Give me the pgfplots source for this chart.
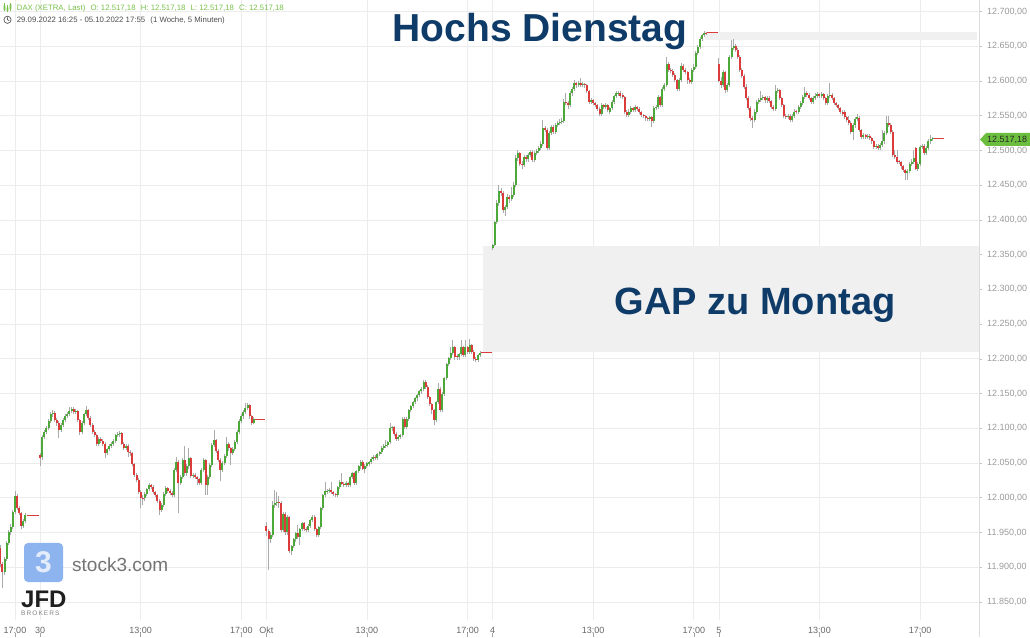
\documentclass[border=0pt]{standalone}
\usepackage{pgfplots}
\pgfplotsset{compat=1.18}
\usepackage{pgfplotstable}
\usepackage{fontspec}
\setmainfont{Liberation Sans}
\definecolor{cgreen}{HTML}{4DA83A}
\definecolor{cred}{HTML}{DB3B3B}
\definecolor{cwick}{HTML}{ABABAB}
\definecolor{gridc}{HTML}{ECECEC}
\definecolor{navy}{HTML}{0F3B68}
\definecolor{hdrgreen}{HTML}{78C04A}
\definecolor{boxgray}{HTML}{F0F0F0}
\definecolor{logoblue}{HTML}{8EB4EF}
\definecolor{ylab}{HTML}{9A9A9A}
\definecolor{xlab}{HTML}{666666}
\definecolor{pricegreen}{HTML}{6CBF3E}

\pgfplotstableread{
d k o h l c
0 89 11928 11932 11900 11905
0 90 11905 11908 11870 11893
0 91 11893 11915 11889 11912
0 92 11912 11938 11909 11935
0 93 11935 11953 11932 11950
0 94 11950 11962 11946 11958
0 95 11958 11983 11955 11980
0 96 11980 12010 11977 12003
0 97 12003 12006 11982 11985
0 98 11985 11988 11975 11978
0 99 11978 11980 11955 11960
0 100 11960 11969 11957 11966
0 101 11966 11978 11963 11975
9 0 12062 12065 12046 12057
9 1 12058 12090 12055 12088
9 2 12088 12097 12085 12095
9 3 12095 12103 12092 12100
9 4 12100 12113 12097 12110
9 5 12110 12123 12107 12120
9 6 12120 12127 12116 12122
9 7 12122 12125 12109 12112
9 8 12112 12115 12104 12108
9 9 12108 12110 12086 12098
9 10 12098 12108 12095 12105
9 11 12105 12115 12102 12112
9 12 12112 12121 12109 12118
9 13 12118 12123 12115 12120
9 14 12120 12131 12117 12125
9 15 12125 12131 12122 12128
9 16 12128 12130 12120 12124
9 17 12124 12128 12121 12125
9 18 12125 12127 12109 12112
9 19 12112 12114 12090 12094
9 20 12094 12110 12092 12108
9 21 12108 12122 12105 12120
9 22 12120 12132 12117 12126
9 23 12126 12128 12112 12115
9 24 12115 12118 12102 12105
9 25 12105 12108 12092 12095
9 26 12095 12098 12087 12090
9 27 12090 12092 12075 12078
9 28 12078 12088 12075 12085
9 29 12085 12087 12079 12082
9 30 12082 12084 12075 12078
9 31 12078 12080 12057 12064
9 32 12064 12072 12061 12070
9 33 12070 12077 12067 12075
9 34 12075 12080 12072 12078
9 35 12078 12084 12075 12082
9 36 12082 12092 12079 12090
9 37 12090 12095 12087 12092
9 38 12092 12096 12088 12093
9 39 12093 12095 12076 12078
9 40 12078 12080 12069 12072
9 41 12072 12078 12069 12075
9 42 12075 12077 12058 12066
9 43 12066 12069 12060 12064
9 44 12064 12066 12045 12048
9 45 12048 12050 12030 12033
9 46 12033 12036 12022 12025
9 47 12025 12028 12005 12008
9 48 12008 12011 11985 12000
9 49 12000 12004 11990 11999
9 50 11999 12008 11996 12006
9 51 12006 12014 12003 12012
9 52 12012 12021 12009 12018
9 53 12018 12020 12012 12016
9 54 12016 12018 12005 12008
9 55 12008 12010 12001 12004
9 56 12004 12006 11992 11995
9 57 11995 11998 11975 11983
9 58 11983 11993 11980 11990
9 59 11990 12008 11987 12005
9 60 12005 12017 12002 12014
9 61 12014 12016 12007 12010
9 62 12010 12012 12004 12007
9 63 12007 12009 12001 12004
9 64 12004 12043 12001 12040
9 65 12040 12058 12037 12052
9 66 12052 12054 11978 12021
9 67 12021 12033 12018 12030
9 68 12030 12057 12027 12054
9 69 12054 12074 12032 12035
9 70 12035 12048 12032 12045
9 71 12045 12071 12042 12057
9 72 12057 12059 12028 12031
9 73 12031 12036 12028 12033
9 74 12033 12035 12027 12030
9 75 12030 12032 12018 12027
9 76 12027 12029 12018 12021
9 77 12021 12043 12018 12040
9 78 12040 12057 12037 12054
9 79 12054 12056 12004 12018
9 80 12018 12033 12004 12030
9 81 12030 12050 12027 12047
9 82 12047 12079 12044 12076
9 83 12076 12098 12073 12083
9 84 12083 12085 12065 12068
9 85 12068 12070 12052 12055
9 86 12055 12057 12024 12040
9 87 12040 12053 12037 12050
9 88 12050 12063 12047 12060
9 89 12060 12088 12057 12078
9 90 12078 12080 12068 12071
9 91 12071 12073 12047 12064
9 92 12064 12073 12061 12070
9 93 12070 12083 12067 12080
9 94 12080 12098 12077 12095
9 95 12095 12113 12092 12110
9 96 12110 12120 12107 12117
9 97 12117 12127 12114 12124
9 98 12124 12136 12121 12129
9 99 12129 12136 12126 12133
9 100 12133 12135 12114 12117
9 101 12117 12119 12105 12108
9 102 12108 12116 12106 12113
18 0 11960 11965 11945 11952
18 1 11952 11955 11896 11940
18 2 11940 11950 11935 11946
18 3 11946 11995 11944 11990
18 4 11990 12011 11985 11992
18 5 11992 12008 11988 11994
18 6 11994 12002 11985 11993
18 7 11993 11995 11950 11953
18 8 11953 11980 11950 11977
18 9 11977 11980 11947 11950
18 10 11950 11975 11947 11972
18 11 11972 11974 11920 11923
18 12 11923 11932 11918 11930
18 13 11930 11942 11927 11940
18 14 11940 11951 11937 11949
18 15 11949 11961 11941 11944
18 16 11944 11957 11932 11955
18 17 11955 11965 11952 11963
18 18 11963 11965 11952 11955
18 19 11955 11958 11950 11953
18 20 11953 11962 11950 11960
18 21 11960 11970 11957 11968
18 22 11968 11975 11965 11973
18 23 11973 11975 11952 11955
18 24 11955 11957 11943 11946
18 25 11946 11960 11943 11958
18 26 11958 11987 11955 11985
18 27 11985 12006 11982 12004
18 28 12004 12023 12001 12009
18 29 12009 12013 12006 12010
18 30 12010 12014 12007 12011
18 31 12011 12023 12006 12008
18 32 12008 12010 12002 12005
18 33 12005 12007 12001 12004
18 34 12004 12017 12001 12015
18 35 12015 12025 12012 12023
18 36 12023 12035 12018 12020
18 37 12020 12022 12016 12019
18 38 12019 12024 12016 12021
18 39 12021 12023 12015 12018
18 40 12018 12032 12015 12030
18 41 12030 12037 12027 12035
18 42 12035 12037 12018 12021
18 43 12021 12040 12018 12038
18 44 12038 12047 12035 12045
18 45 12045 12054 12042 12052
18 46 12052 12054 12040 12042
18 47 12042 12048 12035 12046
18 48 12046 12052 12043 12050
18 49 12048 12053 12045 12051
18 50 12051 12058 12048 12056
18 51 12056 12061 12053 12059
18 52 12059 12061 12054 12057
18 53 12057 12065 12054 12063
18 54 12063 12068 12060 12066
18 55 12066 12074 12063 12072
18 56 12072 12077 12069 12075
18 57 12075 12083 12072 12076
18 58 12076 12082 12073 12080
18 59 12080 12108 12077 12100
18 60 12100 12104 12096 12102
18 61 12102 12104 12089 12092
18 62 12092 12094 12082 12085
18 63 12085 12090 12082 12088
18 64 12088 12092 12085 12090
18 65 12090 12116 12087 12114
18 66 12114 12116 12099 12102
18 67 12102 12116 12099 12114
18 68 12114 12128 12111 12126
18 69 12126 12134 12123 12132
18 70 12132 12140 12129 12138
18 71 12138 12145 12135 12143
18 72 12143 12150 12140 12148
18 73 12148 12155 12145 12153
18 74 12153 12159 12150 12157
18 75 12157 12170 12154 12167
18 76 12167 12169 12157 12160
18 77 12160 12162 12142 12145
18 78 12145 12147 12132 12135
18 79 12135 12137 12120 12126
18 80 12126 12128 12105 12112
18 81 12112 12140 12109 12138
18 82 12138 12165 12135 12157
18 83 12157 12159 12123 12126
18 84 12126 12152 12123 12150
18 85 12150 12174 12147 12172
18 86 12172 12194 12169 12192
18 87 12192 12203 12189 12201
18 88 12201 12217 12198 12208
18 89 12208 12227 12205 12217
18 90 12217 12219 12198 12203
18 91 12204 12207 12199 12202
18 92 12202 12209 12199 12207
18 93 12207 12227 12204 12217
18 94 12217 12219 12202 12205
18 95 12205 12227 12202 12217
18 96 12217 12219 12207 12210
18 97 12210 12228 12207 12220
18 98 12220 12222 12207 12210
18 99 12210 12212 12197 12200
18 100 12200 12202 12195 12198
18 101 12198 12207 12195 12205
18 102 12205 12211 12202 12209
27 0 12360 12366 12357 12364
27 1 12364 12399 12362 12397
27 2 12397 12428 12394 12424
27 3 12424 12450 12420 12441
27 4 12442 12446 12435 12439
27 5 12439 12441 12410 12414
27 6 12414 12422 12405 12419
27 7 12419 12438 12416 12433
27 8 12433 12436 12425 12430
27 9 12430 12448 12427 12436
27 10 12436 12455 12433 12450
27 11 12450 12493 12447 12489
27 12 12489 12501 12485 12496
27 13 12496 12498 12478 12481
27 14 12481 12485 12474 12479
27 15 12479 12493 12476 12490
27 16 12490 12494 12483 12487
27 17 12487 12496 12484 12493
27 18 12493 12501 12490 12498
27 19 12498 12500 12483 12486
27 20 12486 12499 12483 12496
27 21 12496 12502 12493 12499
27 22 12499 12506 12496 12503
27 23 12503 12513 12500 12510
27 24 12510 12544 12507 12532
27 25 12532 12535 12527 12530
27 26 12530 12532 12500 12503
27 27 12503 12528 12500 12525
27 28 12525 12537 12522 12534
27 29 12534 12536 12524 12527
27 30 12527 12540 12524 12537
27 31 12537 12542 12534 12539
27 32 12539 12545 12536 12541
27 33 12541 12546 12538 12543
27 34 12543 12574 12540 12570
27 35 12570 12583 12565 12568
27 36 12568 12571 12560 12565
27 37 12565 12585 12562 12582
27 38 12582 12592 12579 12589
27 39 12589 12601 12586 12597
27 40 12597 12599 12590 12594
27 41 12594 12600 12591 12597
27 42 12597 12604 12591 12594
27 43 12594 12598 12591 12595
27 44 12595 12597 12590 12594
27 45 12594 12596 12582 12585
27 46 12585 12587 12567 12570
27 47 12570 12575 12567 12572
27 48 12572 12574 12565 12568
27 49 12568 12570 12562 12565
27 50 12565 12567 12557 12560
27 51 12560 12562 12549 12553
27 52 12553 12568 12550 12565
27 53 12565 12567 12560 12563
27 54 12563 12568 12560 12565
27 55 12565 12567 12555 12558
27 56 12556 12563 12553 12561
27 57 12561 12572 12558 12570
27 58 12570 12580 12567 12578
27 59 12578 12586 12575 12582
27 60 12582 12586 12579 12583
27 61 12583 12585 12575 12578
27 62 12580 12582 12574 12577
27 63 12577 12579 12553 12556
27 64 12556 12558 12548 12551
27 65 12551 12559 12548 12556
27 66 12556 12564 12553 12561
27 67 12561 12563 12555 12558
27 68 12558 12565 12555 12562
27 69 12562 12564 12557 12560
27 70 12560 12562 12552 12555
27 71 12555 12557 12548 12551
27 72 12551 12553 12546 12549
27 73 12549 12551 12543 12546
27 74 12546 12548 12542 12545
27 75 12545 12550 12542 12548
27 76 12548 12550 12534 12543
27 77 12543 12564 12540 12561
27 78 12561 12566 12558 12563
27 79 12563 12580 12560 12577
27 80 12577 12579 12563 12566
27 81 12566 12592 12563 12589
27 82 12589 12597 12586 12594
27 83 12594 12635 12591 12625
27 84 12625 12628 12613 12616
27 85 12616 12619 12611 12614
27 86 12614 12617 12606 12609
27 87 12609 12611 12598 12601
27 88 12601 12603 12586 12589
27 89 12589 12604 12586 12601
27 90 12601 12626 12598 12622
27 91 12622 12625 12613 12616
27 92 12616 12619 12610 12613
27 93 12613 12615 12596 12601
27 94 12601 12604 12595 12598
27 95 12598 12619 12595 12616
27 96 12616 12624 12613 12620
27 97 12620 12643 12617 12640
27 98 12640 12652 12637 12649
27 99 12649 12664 12646 12661
27 100 12661 12668 12658 12666
27 101 12666 12672 12663 12669
27 102 12669 12671 12666 12668
36 0 12625 12633 12598 12600
36 1 12600 12606 12590 12594
36 2 12594 12616 12591 12613
36 3 12613 12615 12583 12587
36 4 12587 12597 12584 12594
36 5 12594 12638 12591 12635
36 6 12635 12659 12632 12647
36 7 12647 12661 12644 12650
36 8 12650 12653 12642 12645
36 9 12645 12648 12632 12635
36 10 12635 12638 12613 12616
36 11 12616 12619 12604 12607
36 12 12607 12610 12589 12592
36 13 12592 12595 12572 12575
36 14 12575 12578 12558 12561
36 15 12561 12564 12543 12546
36 16 12546 12549 12532 12544
36 17 12544 12559 12541 12556
36 18 12556 12573 12553 12570
36 19 12570 12576 12567 12573
36 20 12573 12585 12570 12575
36 21 12575 12580 12572 12577
36 22 12577 12579 12569 12572
36 23 12572 12579 12569 12576
36 24 12576 12578 12568 12571
36 25 12571 12573 12560 12563
36 26 12563 12565 12557 12560
36 27 12560 12594 12557 12585
36 28 12585 12590 12582 12587
36 29 12587 12589 12572 12575
36 30 12575 12577 12562 12565
36 31 12565 12567 12546 12549
36 32 12549 12552 12545 12548
36 33 12548 12553 12545 12550
36 34 12550 12552 12541 12544
36 35 12544 12552 12541 12549
36 36 12549 12559 12546 12556
36 37 12556 12558 12552 12555
36 38 12555 12566 12552 12563
36 39 12563 12571 12560 12568
36 40 12568 12580 12565 12577
36 41 12577 12592 12574 12583
36 42 12583 12585 12577 12580
36 43 12580 12582 12572 12575
36 44 12575 12577 12567 12570
36 45 12570 12578 12567 12575
36 46 12575 12582 12572 12579
36 47 12579 12584 12576 12581
36 48 12581 12583 12575 12578
36 49 12578 12584 12575 12581
36 50 12581 12583 12572 12575
36 51 12575 12577 12565 12568
36 52 12568 12581 12565 12578
36 53 12578 12597 12575 12580
36 54 12580 12582 12572 12575
36 55 12575 12577 12565 12568
36 56 12568 12570 12562 12565
36 57 12565 12567 12558 12561
36 58 12561 12563 12553 12556
36 59 12556 12558 12550 12553
36 60 12556 12558 12545 12548
36 61 12548 12550 12541 12544
36 62 12544 12549 12536 12540
36 63 12540 12542 12524 12527
36 64 12527 12539 12515 12536
36 65 12536 12548 12533 12545
36 66 12545 12553 12542 12548
36 67 12546 12549 12526 12529
36 68 12529 12531 12517 12520
36 69 12520 12525 12517 12522
36 70 12522 12524 12517 12520
36 71 12520 12524 12517 12521
36 72 12521 12523 12515 12518
36 73 12518 12520 12510 12513
36 74 12513 12515 12502 12505
36 75 12505 12510 12502 12507
36 76 12507 12509 12500 12503
36 77 12503 12511 12500 12508
36 78 12508 12530 12505 12513
36 79 12513 12528 12510 12525
36 80 12525 12549 12522 12539
36 81 12539 12549 12534 12537
36 82 12537 12539 12524 12527
36 83 12527 12529 12490 12493
36 84 12493 12500 12488 12491
36 85 12491 12500 12481 12484
36 86 12484 12486 12480 12483
36 87 12483 12485 12474 12477
36 88 12477 12479 12469 12472
36 89 12472 12474 12457 12467
36 90 12467 12473 12458 12470
36 91 12470 12484 12467 12481
36 92 12481 12487 12478 12484
36 93 12484 12500 12481 12489
36 94 12503 12505 12472 12474
36 95 12474 12483 12471 12480
36 96 12480 12508 12477 12505
36 97 12505 12510 12502 12507
36 98 12507 12509 12493 12496
36 99 12496 12506 12493 12503
36 100 12503 12516 12500 12513
36 101 12513 12522 12510 12516
36 102 12516 12519 12514 12517.18
}\candles

\begin{document}
\begin{tikzpicture}[x=1pt,y=1pt]
\begin{axis}[
  at={(0pt,17pt)}, anchor=south west,
  scale only axis, width=979pt, height=620pt,
  xmin=7.4033, xmax=46.345, ymin=11824, ymax=12716.6,
  axis line style={draw=none},
  grid=major, grid style={gridc, line width=0.8pt},
  xtick={8,9,13,17,18,22,26,27,31,35,36,40,44},
  xticklabels={17:00,30,13:00,17:00,Okt,13:00,17:00,4,13:00,17:00,5,13:00,17:00},
  ytick={11850,11900,11950,12000,12050,12100,12150,12200,12250,12300,12350,12400,12450,12500,12550,12600,12650,12700},
  scaled y ticks=false,
  ytick pos=right, yticklabel pos=right,
  xtick pos=bottom,
  tick align=outside,
  major tick length=3pt,
  ytick style={draw=ylab!60, line width=0.6pt},
  xtick style={draw=none},
  yticklabel style={font=\fontsize{9}{10}\selectfont, text=ylab, anchor=west, inner sep=0pt, xshift=5pt},
  xticklabel style={font=\fontsize{9}{10}\selectfont, text=xlab, anchor=base, inner sep=0pt, yshift=-10pt},
  /pgf/number format/.cd, fixed, fixed zerofill, precision=2, use comma, 1000 sep={.}, assume math mode=true,
]
% gap and high zones
\fill[boxgray] (axis cs:26.616,12210) rectangle (axis cs:46.345,12362);
\fill[boxgray] (axis cs:35.45,12659) rectangle (axis cs:46.27,12671);
% wicks
\addplot[only marks, mark=*, mark size=0pt, mark options={draw=none, fill=none},
  error bars/.cd, y dir=plus, y explicit,
  error bar style={draw=cwick, line width=1pt}, error mark=none]
  table[x expr=\thisrow{d}+\thisrow{k}/12, y=l, y error expr=\thisrow{h}-\thisrow{l}] {\candles};
% up bodies
\addplot[only marks, mark=*, mark size=0pt, mark options={draw=none, fill=none},
  restrict expr to domain={\thisrow{c}-\thisrow{o}}{0:1000},
  error bars/.cd, y dir=plus, y explicit,
  error bar style={draw=cgreen, line width=2pt, line cap=butt}, error mark=none]
  table[x expr=\thisrow{d}+\thisrow{k}/12, y=o, y error expr={max(\thisrow{c}-\thisrow{o},1.2)}] {\candles};
% down bodies
\addplot[only marks, mark=*, mark size=0pt, mark options={draw=none, fill=none},
  restrict expr to domain={\thisrow{c}-\thisrow{o}}{-1000:-0.001},
  error bars/.cd, y dir=plus, y explicit,
  error bar style={draw=cred, line width=2pt, line cap=butt}, error mark=none]
  table[x expr=\thisrow{d}+\thisrow{k}/12, y=c, y error expr={max(\thisrow{o}-\thisrow{c},1.2)}] {\candles};
% closing auction flats
\addplot[cred, line width=1pt] coordinates {(8.458,11975) (8.958,11975)};
\addplot[cred, line width=1pt] coordinates {(17.542,12113) (17.958,12113)};
\addplot[cred, line width=1pt] coordinates {(26.542,12209) (26.958,12209)};
\addplot[cred, line width=1pt] coordinates {(35.542,12670) (35.958,12670)};
\addplot[cred, line width=1pt] coordinates {(44.542,12517.18) (44.958,12517.18)};
\end{axis}
% x tick marks below labels
\foreach \tx in {15,40.1,140.7,241.3,266.4,367,467.5,492.7,593.2,693.8,718.9,819.5,920}{
  \draw[xlab!60, line width=0.6pt] (\tx,0) -- (\tx,4);
}
% right border
\draw[gridc!85!gray, line width=0.8pt] (979,0) -- (979,637);
% titles
\node[anchor=base, inner sep=0pt, font=\fontsize{39}{39}\selectfont\bfseries, text=navy] at (540,595) {Hochs Dienstag};
\node[anchor=base, inner sep=0pt, font=\fontsize{38}{38}\selectfont\bfseries, text=navy] at (755,322) {GAP zu Montag};
% header
\node[anchor=base west, inner sep=0pt, font=\fontsize{7.8}{8}\selectfont, text=hdrgreen] at (16.7,626) {DAX (XETRA, Last)\hspace{3pt} O: 12.517,18\hspace{3pt} H: 12.517,18\hspace{3pt} L: 12.517,18\hspace{3pt} C: 12.517,18};
\node[anchor=base west, inner sep=0pt, font=\fontsize{7.8}{8}\selectfont, text=black!70] at (16.7,614.5) {29.09.2022 16:25 - 05.10.2022 17:55\hspace{3pt} (1 Woche, 5 Minuten)};
% header icons
\draw[hdrgreen, line width=0.5pt] (4.5,625.5) -- (4.5,633.5) (7.5,624.5) -- (7.5,632) (10.5,626) -- (10.5,634);
\fill[hdrgreen] (3.7,627) rectangle (5.3,631.5) (6.7,626) rectangle (8.3,629.5) (9.7,628) rectangle (11.3,632.5);
\draw[black!65, line width=0.7pt] (7.5,617.2) circle (3.6);
\draw[black!65, line width=0.6pt] (7.5,617.2) -- (7.5,619.6) (7.5,617.2) -- (9.2,616.3);
% price marker
\fill[pricegreen] (980,497.5) -- (986,504) -- (1030,504) -- (1030,491) -- (986,491) -- cycle;
\node[anchor=west, inner sep=0pt, font=\fontsize{9}{10}\selectfont, text=black!85] at (987,497.5) {12.517,18};
% logos
\fill[logoblue, rounded corners=4pt] (24,55) rectangle (63,94);
\node[text=white, opacity=0.75, font=\fontsize{30}{30}\selectfont\bfseries] at (43.5,74.5) {3};
\node[anchor=base west, inner sep=0pt, font=\fontsize{19}{19}\selectfont, text=black!55] at (72,66) {stock3.com};
\node[anchor=base west, inner sep=0pt, font=\fontsize{24}{24}\selectfont\bfseries, text=black!88] at (21,30) {JFD};
\node[anchor=base west, inner sep=0pt, font=\fontsize{6.5}{7}\selectfont, text=black!50] at (21,21.3) {B\,R\,O\,K\,E\,R\,S};
\pgfresetboundingbox
\path[use as bounding box] (0,0) rectangle (1030,637);
\end{tikzpicture}
\end{document}
